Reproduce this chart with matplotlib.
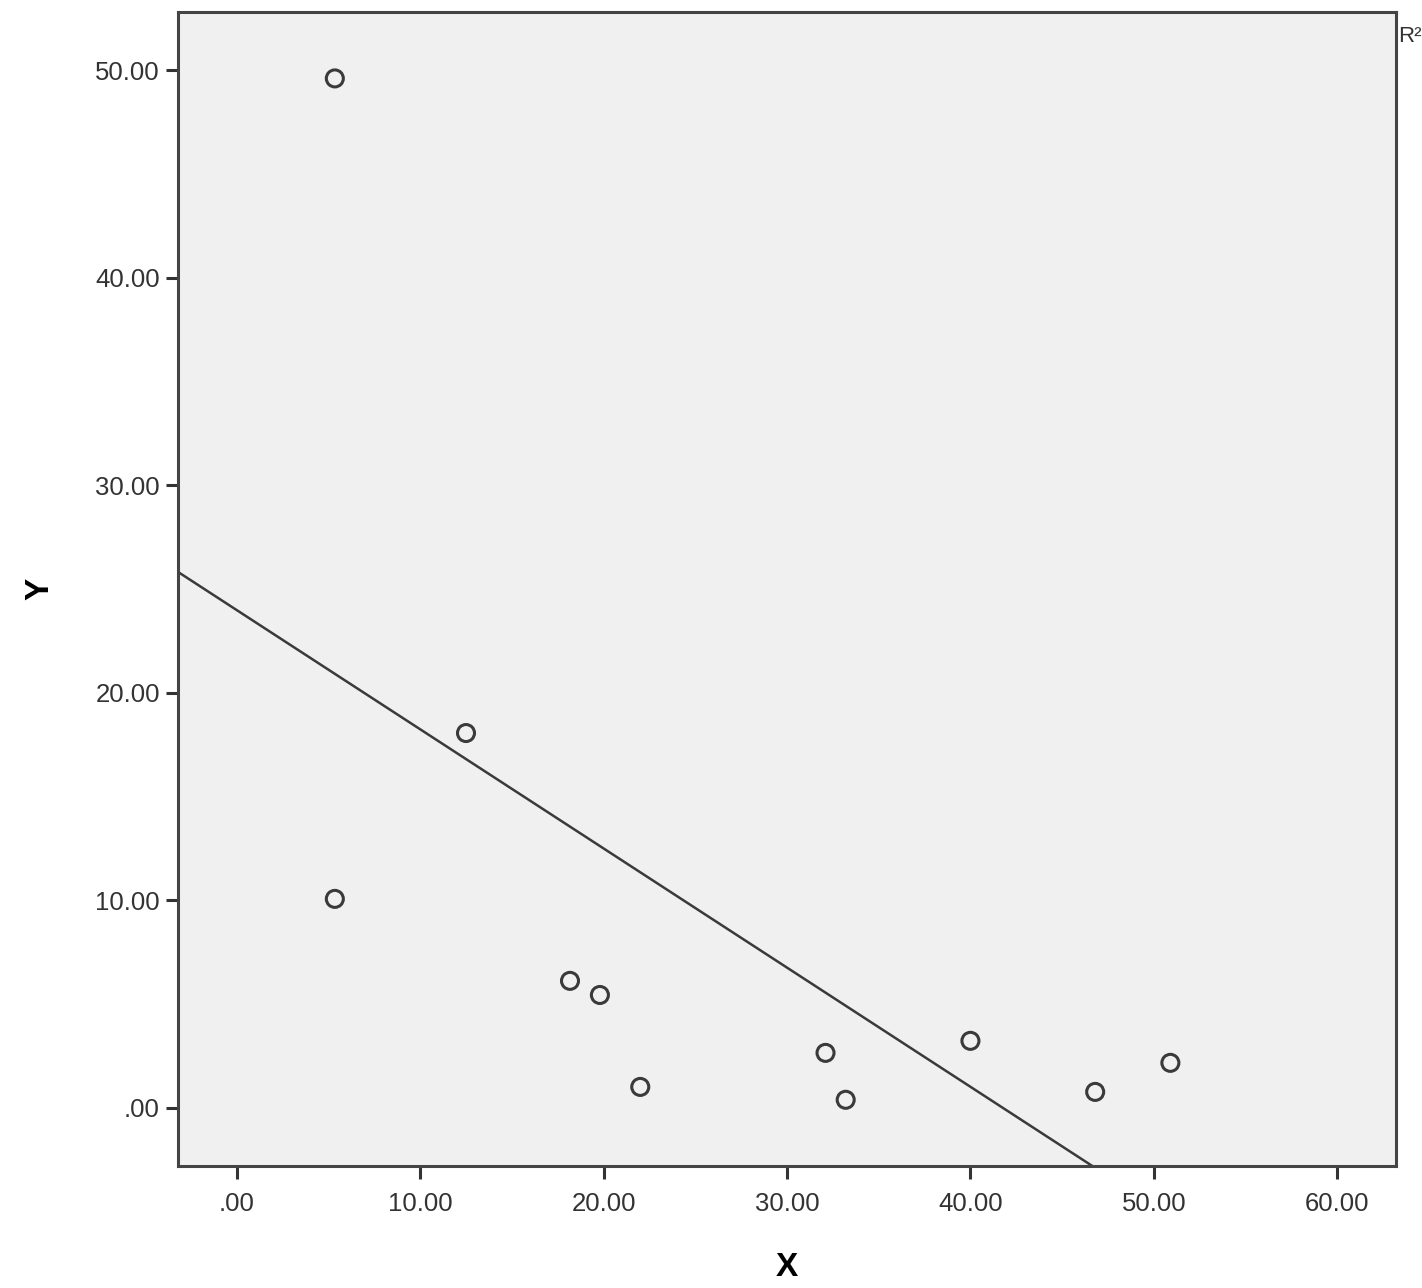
import numpy as np
import matplotlib
matplotlib.use("Agg")
import matplotlib.pyplot as plt

# ======================== data
x_vals = [5.35, 12.5, 5.35, 18.17, 19.8, 22.0, 32.1, 33.2, 40.0, 46.8, 50.9]
y_vals = [49.6, 18.06, 10.07, 6.12, 5.44, 1.01, 2.65, 0.39, 3.23, 0.77, 2.17]
x_ticks = [0, 10, 20, 30, 40, 50, 60]
y_ticks = [0, 10, 20, 30, 40, 50]
x_tick_labels = [".00", "10.00", "20.00", "30.00", "40.00", "50.00", "60.00"]
y_tick_labels = [".00", "10.00", "20.00", "30.00", "40.00", "50.00"]

plt.rcParams['font.family'] = ['Liberation Sans', 'DejaVu Sans']

fig = plt.figure(figsize=(14.22, 12.88), dpi=100)
ax = fig.add_axes([178/1422, 122/1288, (1396-178)/1422, (1166-12)/1288])
ax.set_facecolor("#f0f0f0")

ax.scatter(x_vals, y_vals, s=150, facecolors="none", edgecolors="#3a3a3a",
           linewidths=2.2, zorder=3)

# linear fit line
slope, intercept = np.polyfit(x_vals, y_vals, 1)
xl = np.array([-3.2, 63.2])
ax.plot(xl, slope * xl + intercept, color="#3a3a3a", linewidth=1.8, zorder=2)

ax.set_xlim(-3.2, 63.2)
ax.set_ylim(-2.8, 52.8)
ax.set_xticks(x_ticks)
ax.set_xticklabels(x_tick_labels)
ax.set_yticks(y_ticks)
ax.set_yticklabels(y_tick_labels)
ax.tick_params(axis="both", direction="out", length=9, width=2.2,
               color="#333333", labelsize=18.5, labelcolor="#333333")
ax.tick_params(axis="x", pad=10)
ax.tick_params(axis="y", pad=4)
for s in ax.spines.values():
    s.set_linewidth(2.2)
    s.set_color("#444444")

ax.set_xlabel("X", fontsize=24, fontweight="bold", labelpad=26)
ax.set_ylabel("Y", fontsize=24, fontweight="bold", labelpad=29)

fig.text(1398/1422, 1 - 36/1288, "R²", fontsize=16, color="#333333",
         ha="left", va="center")

plt.savefig("out.png", dpi=100)
